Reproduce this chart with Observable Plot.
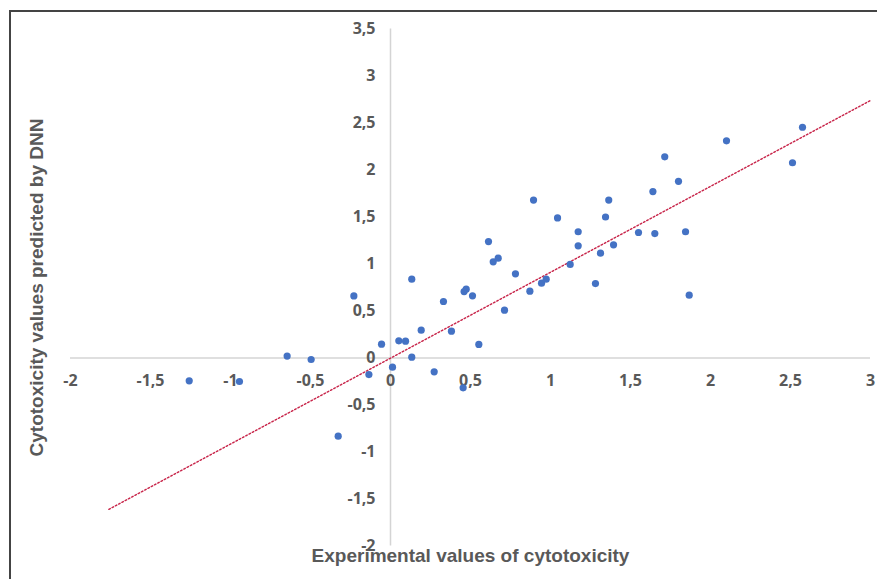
<!DOCTYPE html>
<html>
<head>
<meta charset="utf-8">
<script src="https://cdn.jsdelivr.net/npm/d3@7"></script>
<script src="https://cdn.jsdelivr.net/npm/@observablehq/plot@0.6"></script>
<style>
  html, body { margin: 0; padding: 0; background: #fff; }
  #wrap { position: relative; width: 877px; height: 579px; overflow: hidden; }
  #frame { position: absolute; left: 9px; top: 10px; width: 900px; height: 600px;
           border-left: 2px solid #444; border-top: 2px solid #444; box-sizing: border-box; }
  #chart { position: absolute; left: 0; top: 0; }
</style>
</head>
<body>
<div id="wrap"><div id="frame"></div><div id="chart"></div></div>
<script>
// Experimental values (x) and DNN-predicted values (y)
const experimental = [
  -1.258, -0.944, -0.646, -0.496, -0.327, -0.229, -0.135, -0.056, 0.0125, 0.052,
  0.094, 0.133, 0.133, 0.192, 0.273, 0.331, 0.381, 0.454, 0.46, 0.473,
  0.5125, 0.552, 0.6125, 0.642, 0.673, 0.7125, 0.781, 0.871, 0.894, 0.944,
  0.973, 1.044, 1.123, 1.173, 1.173, 1.281, 1.3125, 1.344, 1.364, 1.394,
  1.55, 1.64, 1.652, 1.714, 1.80, 1.844, 1.867, 2.10, 2.5125, 2.575
];
const predicted = [
  -0.243, -0.25, 0.02, -0.016, -0.832, 0.66, -0.176, 0.147, -0.098, 0.183,
  0.179, 0.839, 0.009, 0.296, -0.147, 0.601, 0.285, -0.317, 0.707, 0.732,
  0.661, 0.144, 1.239, 1.023, 1.062, 0.509, 0.896, 0.711, 1.68, 0.796,
  0.839, 1.49, 0.995, 1.343, 1.193, 0.792, 1.115, 1.50, 1.68, 1.204,
  1.335, 1.77, 1.324, 2.14, 1.88, 1.343, 0.668, 2.31, 2.077, 2.455
];
// Linear trend line end points
const trendX = [-1.76, 3.0];
const trendY = [-1.61, 2.74];

const xTicks = [-2, -1.5, -1, -0.5, 0, 0.5, 1, 1.5, 2, 2.5, 3];
const xTickLabels = ["-2", "-1,5", "-1", "-0,5", "0", "0,5", "1", "1,5", "2", "2,5", "3"];
const yTicks = [-2, -1.5, -1, -0.5, 0, 0.5, 1, 1.5, 2, 2.5, 3, 3.5];
const yTickLabels = ["-2", "-1,5", "-1", "-0,5", "0", "0,5", "1", "1,5", "2", "2,5", "3", "3,5"];

const xTitle = "Experimental values of cytotoxicity";
const yTitle = "Cytotoxicity values predicted by DNN";

const points = experimental.map((x, i) => ({x, y: predicted[i]}));
const trend = trendX.map((x, i) => ({x, y: trendY[i]}));

const tickFont = {fontFamily: "'Open Sans', sans-serif", fontWeight: "bold", fontSize: 16, fill: "#595959"};
const titleFont = {fontFamily: "'Liberation Sans', Arial, sans-serif", fontWeight: "bold", fontSize: 19, fill: "#595959"};

const chart = Plot.plot({
  width: 877,
  height: 579,
  marginLeft: 70,
  marginRight: 7,
  marginTop: 28.5,
  marginBottom: 33.5,
  style: {background: "transparent", overflow: "visible"},
  x: {domain: [-2, 3], axis: null},
  y: {domain: [-2, 3.5], axis: null},
  marks: [
    Plot.ruleY([0], {x1: -2, x2: 3, stroke: "#d4d4d4", strokeWidth: 1.5}),
    Plot.ruleX([0], {y1: -2, y2: 3.5, stroke: "#d4d4d4", strokeWidth: 1.5}),
    Plot.text(xTicks, {x: d => d, y: () => 0, text: (d, i) => xTickLabels[i], dy: 22.5, ...tickFont}),
    Plot.text(yTicks, {x: () => 0, y: d => d, text: (d, i) => yTickLabels[i], dx: -15, textAnchor: "end", ...tickFont}),
    Plot.line(trend, {x: "x", y: "y", stroke: "#c8254a", strokeWidth: 1.5, strokeDasharray: "1.5 2.2"}),
    Plot.dot(points, {x: "x", y: "y", r: 3.6, fill: "#4472c4", stroke: "none"}),
    Plot.text([xTitle], {frameAnchor: "bottom", dy: 15.5, textAnchor: "middle", text: d => d, style: "word-spacing: 3px", ...titleFont}),
    Plot.text([yTitle], {frameAnchor: "left", dx: -34, rotate: -90, textAnchor: "middle", text: d => d, ...titleFont})
  ]
});
document.getElementById("chart").appendChild(chart);
</script>
</body>
</html>
